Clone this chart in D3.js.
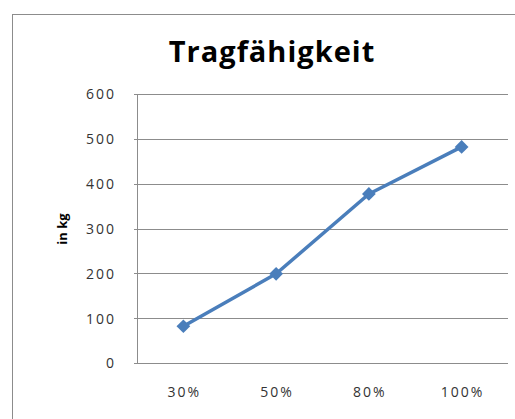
<!DOCTYPE html>
<html lang="de">
<head>
	<meta charset="UTF-8">
	<title>Tragfähigkeit</title>
	<style>
		* {padding:0; margin:0;}
		body {background:#fff;}
		#myGraph {display:block; width:515px; height:419px;}
		.tick text {font-family:"Open Sans", "DejaVu Sans", sans-serif; font-size:14px; letter-spacing:2px; fill:#333;}
	</style>
</head>
<body>
<svg id="myGraph"></svg>
<script src="https://d3js.org/d3.v7.min.js"></script>
<script>
// Daten
var categories = ["30%", "50%", "80%", "100%"];
var values = [82, 199, 377, 482];
var yTicks = [0, 100, 200, 300, 400, 500, 600];

var svgWidth = 515, svgHeight = 419;
var plot = {left:137, top:94, right:508, bottom:363};

var svg = d3.select("#myGraph");

// Rahmen des Diagramms
svg.append("rect")
  .attr("x", 12.5).attr("y", 14.5)
  .attr("width", 520).attr("height", 420)
  .attr("fill", "#fff").attr("stroke", "#8c8c8c").attr("stroke-width", 1);

var x = d3.scaleBand().domain(categories).range([plot.left, plot.right]);
var y = d3.scaleLinear().domain([0, 600]).range([plot.bottom, plot.top]);

// Gitterlinien
svg.append("g").selectAll("line").data(yTicks).enter().append("line")
  .attr("x1", plot.left - 3).attr("x2", plot.right)
  .attr("y1", function(d){ return Math.round(y(d)) + 0.5; })
  .attr("y2", function(d){ return Math.round(y(d)) + 0.5; })
  .attr("stroke", "#8c8c8c");

svg.append("line")
  .attr("x1", plot.left + 0.5).attr("x2", plot.left + 0.5)
  .attr("y1", plot.top).attr("y2", plot.bottom + 1)
  .attr("stroke", "#8c8c8c");

// Achsen
var yAxis = svg.append("g")
  .attr("transform", "translate(" + (plot.left - 21) + ",0)")
  .call(d3.axisLeft(y).tickValues(yTicks).tickSize(0).tickPadding(0));
yAxis.select(".domain").remove();
yAxis.selectAll("text").attr("dy", "0.35em");

var xAxis = svg.append("g")
  .attr("transform", "translate(1," + (plot.bottom + 24) + ")")
  .call(d3.axisBottom(x).tickSize(0).tickPadding(0));
xAxis.select(".domain").remove();

// Titel
svg.append("text")
  .attr("x", 272).attr("y", 62)
  .attr("text-anchor", "middle")
  .style("font-family", "'Open Sans', 'DejaVu Sans', sans-serif")
  .style("font-weight", "bold").style("font-size", "29px")
  .style("letter-spacing", "1px").style("fill", "#000")
  .text("Tragfähigkeit");

// Achsentitel
svg.append("text")
  .attr("transform", "translate(67,229) rotate(-90)")
  .attr("text-anchor", "middle")
  .style("font-family", "'Open Sans', 'DejaVu Sans', sans-serif")
  .style("font-weight", "bold").style("font-size", "13px").style("fill", "#000")
  .text("in kg");

// Linie
var line = d3.line()
  .x(function(d, i){ return x(categories[i]) + x.bandwidth() / 2; })
  .y(function(d){ return y(d); });

svg.append("path")
  .datum(values)
  .attr("d", line)
  .attr("fill", "none")
  .attr("stroke", "#4a7ebb")
  .attr("stroke-width", 3.5)
  .attr("stroke-linejoin", "round");

// Rauten
svg.append("g").selectAll("path").data(values).enter().append("path")
  .attr("d", d3.symbol().type(d3.symbolDiamond2).size(120))
  .attr("transform", function(d, i){
    return "translate(" + (x(categories[i]) + x.bandwidth() / 2) + "," + y(d) + ")";
  })
  .attr("fill", "#4a7ebb");
</script>
</body>
</html>
